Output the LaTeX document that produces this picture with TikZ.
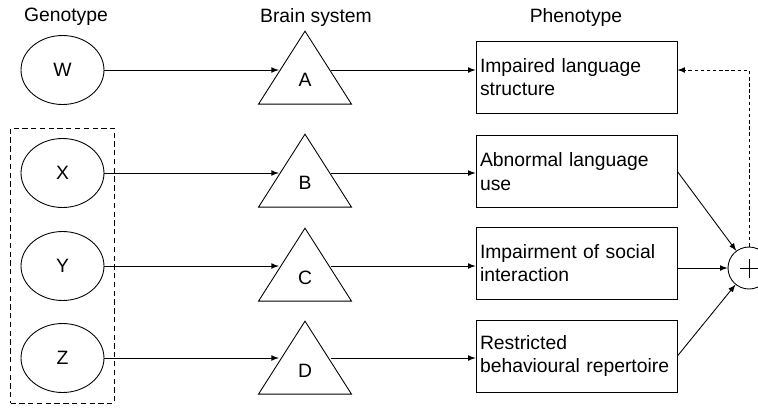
\documentclass[tikz,border=0pt]{standalone}
\usepackage{fontspec}
\setmainfont{Liberation Sans}
\usepackage{tikz}
\usetikzlibrary{positioning}
\usetikzlibrary{arrows}
\usetikzlibrary{shapes}
\usetikzlibrary{fit}

\begin{document}
\begin{tikzpicture}[x=0.02cm,y=-0.02cm,line width=0.5pt,>=latex,
	font=\fontsize{11}{13.5}\selectfont,
	gene/.style={draw,ellipse,inner sep=0pt,minimum width=1.66cm,minimum height=1.38cm},
	brain/.style={draw,isosceles triangle,isosceles triangle stretches,shape border rotate=90,inner sep=0pt,minimum width=1.86cm,minimum height=1.46cm,anchor=apex},
	pheno/.style={draw,rectangle,text width=3.86cm,align=left,inner xsep=0.08cm,minimum height=1.44cm},
	group/.style={draw,dash pattern=on 3pt off 2pt,inner sep=0.2cm},
	adder/.style={draw,circle,inner sep=0pt,minimum size=0.84cm,
		path picture={\draw ([xshift=-0.19cm]path picture bounding box.center) -- ([xshift=0.19cm]path picture bounding box.center);
			\draw ([yshift=-0.19cm]path picture bounding box.center) -- ([yshift=0.19cm]path picture bounding box.center);}},
	conn/.style={->},
	feedback/.style={->,dash pattern=on 2pt off 1.5pt}]
	\useasboundingbox (0,0) rectangle (758,407);
	% column headings
	\node (hgene) at (66,17) {Genotype};
	\node (hbrain) at (316,17) {Brain system};
	\node (hpheno) at (576,17) {Phenotype};
	% genotype
	\node[gene] (W) at (62.5,70) {W};
	\node[gene] (X) at (62.5,173) {X};
	\node[gene] (Y) at (62.5,266) {Y};
	\node[gene] (Z) at (62.5,358) {Z};
	\node[group,fit=(X)(Y)(Z)] (G) {};
	% brain system
	\node[brain] (A) at (305,30) {A};
	\node[brain] (B) at (305,133) {B};
	\node[brain] (C) at (305,227) {C};
	\node[brain] (D) at (305,320) {D};
	% phenotype
	\node[pheno] (P1) at (576.5,77) {Impaired language\\structure};
	\node[pheno] (P2) at (576.5,171.5) {Abnormal language\\use};
	\node[pheno] (P3) at (576.5,263) {Impairment of social\\interaction};
	\node[pheno] (P4) at (576.5,356) {Restricted\\behavioural repertoire};
	\node[adder] (S) at (749,268) {};
	% connections
	\draw[conn] (W) -- ([xshift=-0.05cm]W -| A.left side);
	\draw[conn] (X) -- ([xshift=-0.05cm]X -| B.left side);
	\draw[conn] (Y) -- ([xshift=-0.05cm]Y -| C.left side);
	\draw[conn] (Z) -- ([xshift=-0.05cm]Z -| D.left side);
	\draw[conn] ([xshift=0.05cm]W -| A.right side) -- (W -| P1.west);
	\draw[conn] ([xshift=0.05cm]X -| B.right side) -- (X -| P2.west);
	\draw[conn] ([xshift=0.05cm]Y -| C.right side) -- (Y -| P3.west);
	\draw[conn] ([xshift=0.05cm]Z -| D.right side) -- (Z -| P4.west);
	\draw[conn] (P2.east) -- (S);
	\draw[conn] (S -| P3.east) -- (S);
	\draw[conn] (P4.east) -- (S);
	\draw[feedback] (S) |- (W -| P1.east);
\end{tikzpicture}
\end{document}
